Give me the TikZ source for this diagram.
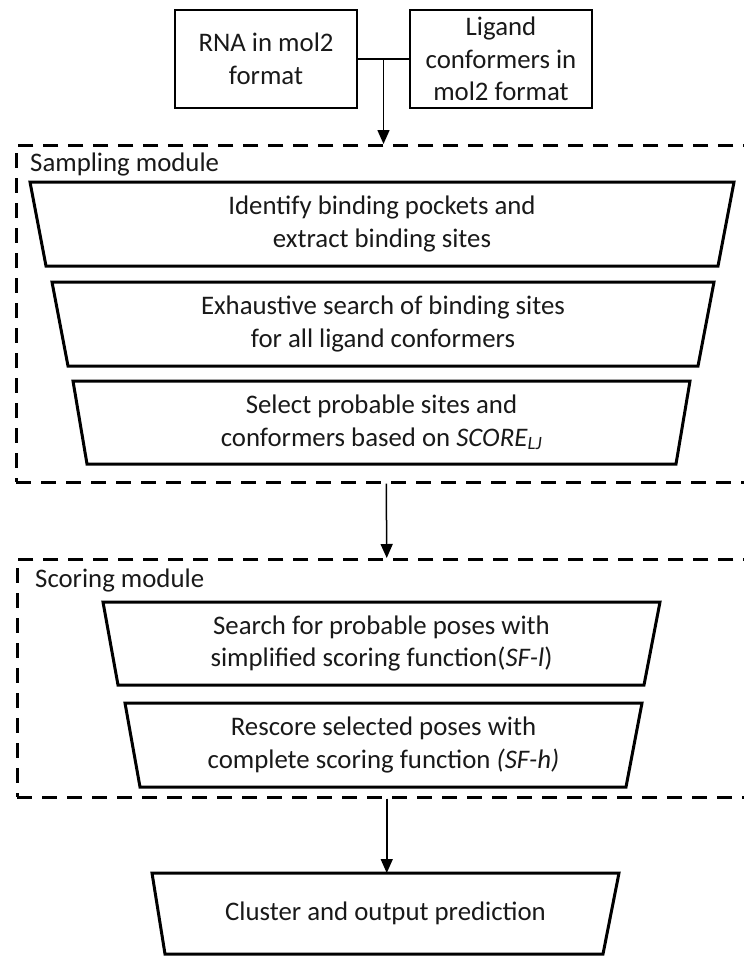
\documentclass[tikz,border=0pt]{standalone}
\usepackage{fontspec}
\setmainfont{Carlito}
\usetikzlibrary{arrows.meta,calc}

\tikzset{
  boxtext/.style={font=\fontsize{26.8}{32.5}\selectfont, align=center, text=black!90},
  inbox/.style={draw, line width=2pt, minimum width=182pt, minimum height=98pt, inner sep=0pt, boxtext},
  trapline/.style={draw, line width=3pt, line join=miter},
  modbox/.style={draw, line width=2.5pt, dash pattern=on 15pt off 10pt, anchor=north west, inner sep=0pt},
  modlabel/.style={font=\fontsize{26.8}{32.5}\selectfont, anchor=base west, inner sep=0pt, text=black!90},
  flow/.style={line width=1.5pt, -{Triangle[width=12pt,length=14pt]}},
  joinline/.style={line width=1.5pt},
}

% trapezoid step: name, top y, bottom y, top left x, top right x, bottom left x, bottom right x, text
\newcommand\trapbox[8]{%
  \draw[trapline] (#4,#2) -- (#5,#2) -- (#7,#3) -- (#6,#3) -- cycle;
  \coordinate (#1top) at ({(#4+#5)/2},#2);
  \node[boxtext] (#1) at ({(#4+#5)/2},{(#2+#3)/2}) {#8};
}

\begin{document}
\begin{tikzpicture}[x=1pt, y=-1pt]
\useasboundingbox (0,0) rectangle (744,956);
\clip (0,0) rectangle (744,956);

% inputs
\node[inbox] (rna) at (266,59) {RNA in mol2\\format};
\node[inbox] (lig) at (501,59) {Ligand\\conformers in\\mol2 format};

% modules (right side runs past the page edge)
\node[modbox, minimum width=740pt, minimum height=337pt] (samp) at (15,144) {};
\node[modbox, minimum width=739pt, minimum height=238pt] (scor) at (16,558) {};
\node[modlabel] (sampl) at (30,171) {Sampling module};
\node[modlabel] (scorl) at (35,587) {Scoring module};

% sampling steps
\trapbox{s1}{182}{266}{30}{734}{46}{718}{Identify binding pockets and\\extract binding sites}
\trapbox{s2}{282}{366}{52}{714}{68}{698}{Exhaustive search of binding sites\\for all ligand conformers}
\trapbox{s3}{381}{464}{73}{690}{87}{676}{Select probable sites and\\conformers based on \textit{SCORE}\textsubscript{\textit{LJ}}}

% scoring steps
\trapbox{c1}{602}{685}{103}{660}{118}{644}{Search for probable poses with\\simplified scoring function(\textit{SF-l})}
\trapbox{c2}{703}{787}{125}{642}{140}{626}{Rescore selected poses with\\complete scoring function \textit{(SF-h)}}

% output
\trapbox{fin}{873}{954}{152}{619}{165}{603}{Cluster and output prediction}

% connectors
\coordinate (j) at ($(rna.east)!0.5!(lig.west)$);
\draw[joinline] (rna.east) -- (lig.west);
\draw[flow] (j) -- (j |- samp.north);
\draw[flow] (samp.south) -- (scor.north);
\draw[flow] (scor.south) -- (scor.south |- fintop);
\end{tikzpicture}
\end{document}
